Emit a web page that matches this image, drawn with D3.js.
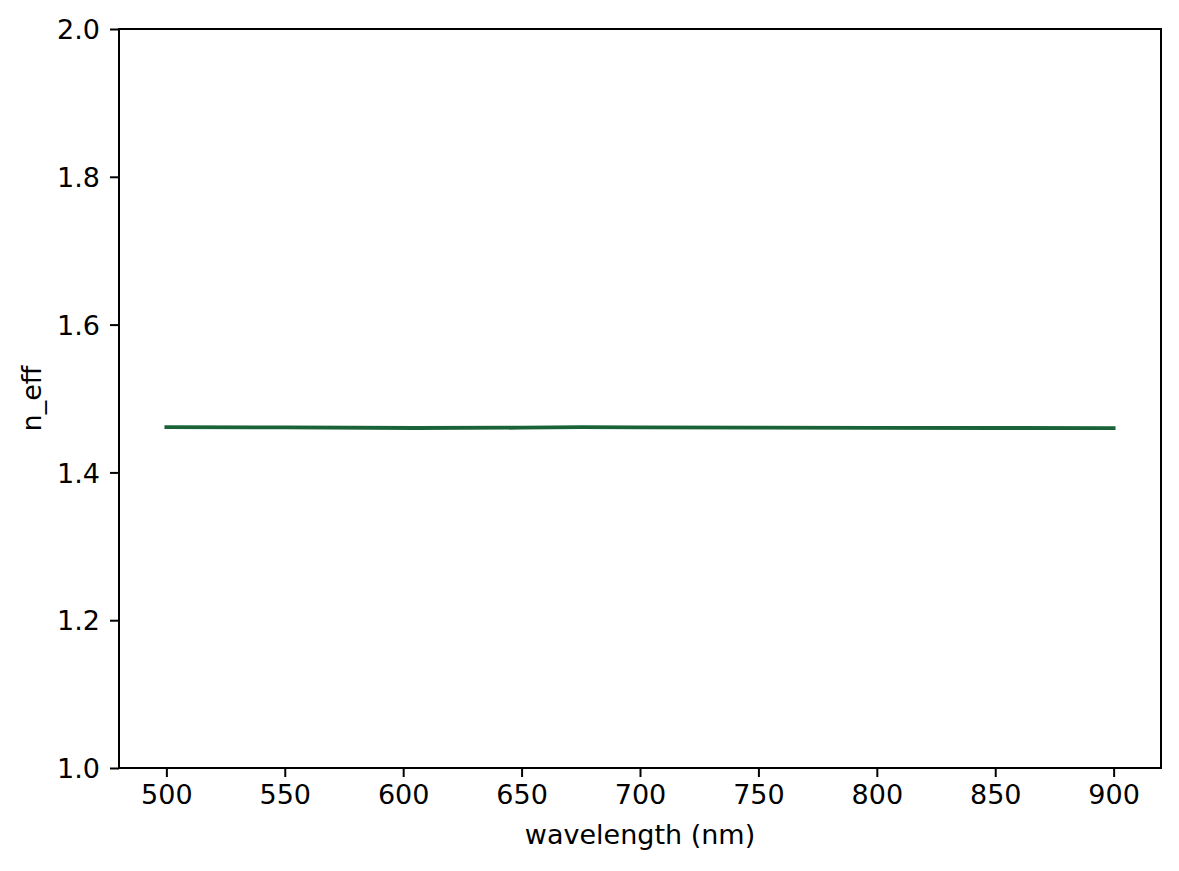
<!DOCTYPE html>
<html lang="en">
<head>
<meta charset="UTF-8">
<title>n_eff vs wavelength</title>
<script src="https://d3js.org/d3.v7.min.js"></script>
<style>
    body {
        margin: 0;
        background-color: #fff;
        font-family: "DejaVu Sans", sans-serif;
    }
    .tick text {
        font-size: 27px;
        fill: #000;
    }
    .axisLabel {
        font-size: 27px;
        text-anchor: middle;
        fill: #000;
    }
</style>
</head>
<body>
<script>
    const width = 1179;
    const height = 871;

    // data
    const wavelengths = [500, 550, 605, 650, 675, 700, 750, 800, 850, 900];
    const nEff = [1.4612, 1.4609, 1.4601, 1.4605, 1.4614, 1.4608, 1.4605, 1.4603, 1.4601, 1.4599];
    const xTicks = [500, 550, 600, 650, 700, 750, 800, 850, 900];
    const yTicks = [1.0, 1.2, 1.4, 1.6, 1.8, 2.0];

    const plot = { left: 119, right: 1161, top: 29, bottom: 768 };

    const svg = d3.select("body").append("svg")
        .attr("width", width)
        .attr("height", height)
        .style("display", "block");

    const x = d3.scaleLinear().domain([480, 920]).range([plot.left, plot.right]);
    const y = d3.scaleLinear().domain([1.0, 2.0]).range([plot.bottom, plot.top]);

    const line = d3.line()
        .x((d, i) => x(wavelengths[i]))
        .y(d => y(d));

    svg.append("path")
        .datum(nEff)
        .attr("d", line)
        .attr("fill", "none")
        .attr("stroke", "#1a6339")
        .attr("stroke-width", 3.8)
        .attr("stroke-linecap", "square")
        .attr("stroke-linejoin", "round");

    // frame
    svg.append("rect")
        .attr("x", plot.left)
        .attr("y", plot.top)
        .attr("width", plot.right - plot.left)
        .attr("height", plot.bottom - plot.top)
        .attr("fill", "none")
        .attr("stroke", "#000")
        .attr("stroke-width", 2);

    const xAxis = svg.append("g")
        .attr("transform", `translate(0,${plot.bottom})`)
        .call(d3.axisBottom(x).tickValues(xTicks).tickSize(9).tickPadding(8).tickFormat(d3.format("d")));

    const yAxis = svg.append("g")
        .attr("transform", `translate(${plot.left},0)`)
        .call(d3.axisLeft(y).tickValues(yTicks).tickSize(9).tickPadding(10).tickFormat(d3.format(".1f")));

    [xAxis, yAxis].forEach(g => {
        g.select(".domain").remove();
        g.selectAll(".tick line").attr("stroke", "#000").attr("stroke-width", 2);
        g.selectAll(".tick text").attr("font-family", "DejaVu Sans, sans-serif");
    });
    yAxis.selectAll(".tick text").attr("dy", "0.36em");

    svg.append("text")
        .attr("class", "axisLabel")
        .attr("x", (plot.left + plot.right) / 2)
        .attr("y", 844)
        .text("wavelength (nm)");

    svg.append("text")
        .attr("class", "axisLabel")
        .attr("transform", `translate(41,${(plot.top + plot.bottom) / 2}) rotate(-90)`)
        .text("n_eff");
</script>
</body>
</html>
